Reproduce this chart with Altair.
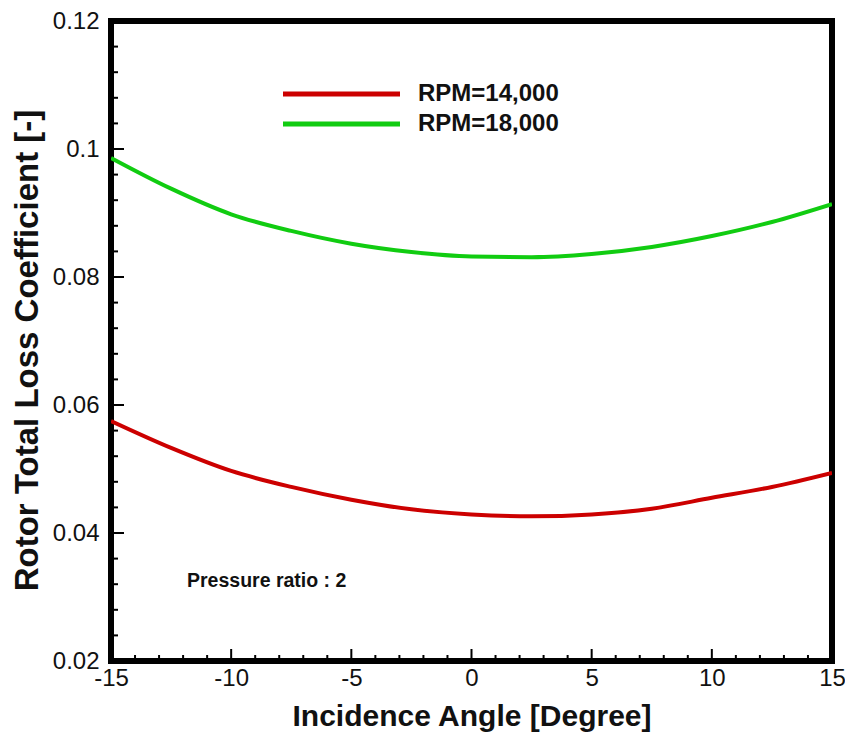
import altair as alt
import pandas as pd

# ---- data ----
angles = [-15, -12.5, -10, -7.5, -5, -2.5, 0, 2.5, 5, 7.5, 10, 12.5, 15]
loss_14000 = [0.0575, 0.0533, 0.0497, 0.0472, 0.0452, 0.0437, 0.0429, 0.0426, 0.0429, 0.0438, 0.0455, 0.0472, 0.0494]
loss_18000 = [0.0986, 0.0938, 0.0898, 0.0872, 0.0852, 0.0839, 0.0832, 0.0831, 0.0836, 0.0847, 0.0864, 0.0886, 0.0914]
series_names = ["RPM=14,000", "RPM=18,000"]
series_colors = ["#cc0000", "#11cc11"]

x_major = [-15, -10, -5, 0, 5, 10, 15]
x_minor = [v for v in range(-15, 16) if v % 5 != 0]
y_major = [0.02, 0.04, 0.06, 0.08, 0.1, 0.12]
y_minor = [round(0.02 + 0.004 * i, 3) for i in range(26) if i % 5 != 0]

annotation = "Pressure ratio : 2"

W, H = 721, 640

rows = []
for a, v in zip(angles, loss_14000):
    rows.append({"angle": a, "loss": v, "series": series_names[0]})
for a, v in zip(angles, loss_18000):
    rows.append({"angle": a, "loss": v, "series": series_names[1]})
df = pd.DataFrame(rows)

xscale = alt.Scale(domain=[-15, 15], nice=False, zero=False)
yscale = alt.Scale(domain=[0.02, 0.12], nice=False, zero=False)
cscale = alt.Scale(domain=series_names, range=series_colors)

FONT = "Liberation Sans"

lines = alt.Chart(df).mark_line(strokeWidth=4, interpolate="monotone", clip=True).encode(
    x=alt.X("angle:Q", scale=xscale,
            axis=alt.Axis(values=x_major, labelExpr="'' + datum.value", ticks=False, domain=False,
                          grid=False, labelFontSize=24, labelFont=FONT, labelColor="#111",
                          labelPadding=5, labelFlush=False, labelOverlap=False,
                          title="Incidence Angle [Degree]",
                          titleFont=FONT, titleFontSize=30, titleFontWeight="bold", titleColor="#111",
                          titleX=W / 2, titleY=55, titleBaseline="middle", titleAnchor="middle")),
    y=alt.Y("loss:Q", scale=yscale,
            axis=alt.Axis(values=y_major, labelExpr="'' + datum.value", ticks=False, domain=False,
                          grid=False, labelFontSize=24, labelFont=FONT, labelColor="#111",
                          labelPadding=12, labelFlush=False, labelOverlap=False,
                          title="Rotor Total Loss Coefficient [-]",
                          titleFont=FONT, titleFontSize=33, titleFontWeight="bold", titleColor="#111",
                          titleX=-84, titleY=329, titleAngle=-90, titleBaseline="middle",
                          titleAlign="center")),
    color=alt.Color("series:N", scale=cscale, legend=None),
    detail="series:N",
)

# inward tick marks
def tick_layer(vals, axis, length):
    d = pd.DataFrame({"v": vals})
    if axis == "y":
        return alt.Chart(d).mark_rule(color="black", strokeWidth=2).encode(
            y=alt.Y("v:Q", scale=yscale), x=alt.value(0), x2=alt.value(length))
    return alt.Chart(d).mark_rule(color="black", strokeWidth=2).encode(
        x=alt.X("v:Q", scale=xscale), y=alt.value(H), y2=alt.value(H - length))

ticks = [
    tick_layer(y_major, "y", 13),
    tick_layer(y_minor, "y", 7),
    tick_layer(x_major, "x", 12),
    tick_layer(x_minor, "x", 6),
]

# manual legend
legend_layers = []
for i, name in enumerate(series_names):
    ld = pd.DataFrame({"series": [name]})
    yy = 73 + 30 * i
    legend_layers.append(alt.Chart(ld).mark_rule(strokeWidth=5).encode(
        x=alt.value(172), x2=alt.value(289), y=alt.value(yy),
        color=alt.Color("series:N", scale=cscale, legend=None)))
    legend_layers.append(alt.Chart(ld).mark_text(
        align="left", baseline="middle", fontSize=24, fontWeight="bold", font=FONT, color="#111").encode(
        x=alt.value(307), y=alt.value(yy), text="series:N"))

ann = alt.Chart(pd.DataFrame({"t": [annotation]})).mark_text(
    align="left", baseline="middle", fontSize=19.5, fontWeight="bold", font=FONT, color="#111").encode(
    x=alt.value(76), y=alt.value(560), text="t:N")

chart = alt.layer(lines, *ticks, *legend_layers, ann).properties(
    width=W, height=H,
    autosize=alt.AutoSizeParams(type="none"),
    padding={"left": 103, "top": 13, "right": 13, "bottom": 71},
).configure_view(stroke="black", strokeWidth=6)

chart.save("out.html", embed_options={"renderer": "svg", "actions": False})
